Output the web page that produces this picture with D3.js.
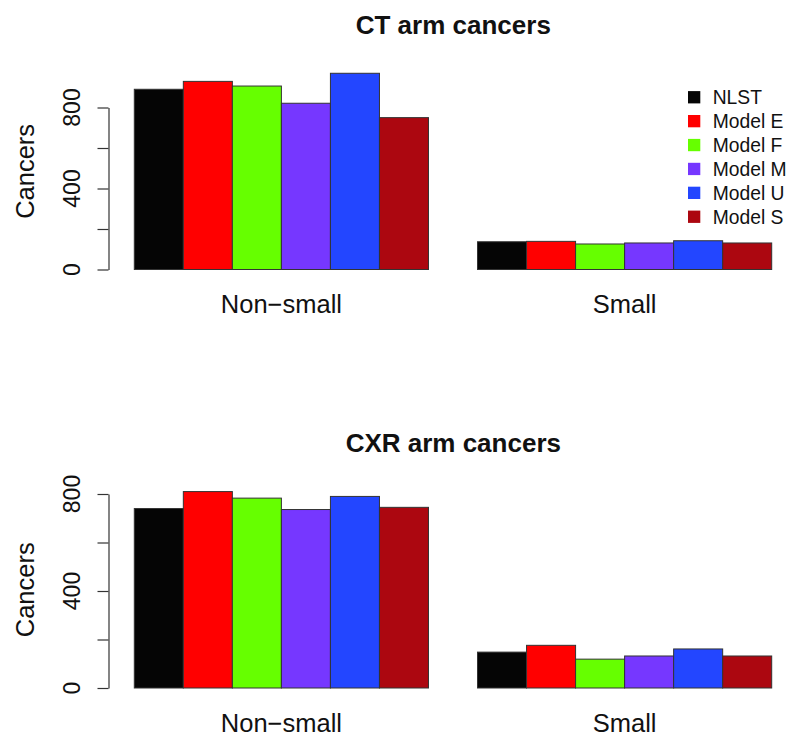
<!DOCTYPE html>
<html>
<head>
<meta charset="utf-8">
<script src="https://cdn.jsdelivr.net/npm/d3@7"></script>
<style>
  html, body { margin: 0; padding: 0; background: #fff; }
  svg { display: block; font-family: "Liberation Sans", Arial, Helvetica, sans-serif; }
</style>
</head>
<body>
<svg id="chart" width="800" height="748"></svg>
<script>
// ---- data ----
const categories = ["Non\u2212small", "Small"];
const seriesNames = ["NLST", "Model E", "Model F", "Model M", "Model U", "Model S"];
const seriesColors = ["#050505", "#FF0000", "#66FF00", "#7637FF", "#2346FF", "#AC0710"];
const ctNonSmall  = [890, 929, 906, 821, 969, 750];
const ctSmall     = [137, 139, 126, 131, 142, 131];
const cxrNonSmall = [740, 810, 783, 736, 790, 745];
const cxrSmall    = [148, 176, 119, 132, 161, 132];
const yTickValues = [0, 200, 400, 600, 800];
const yTickLabels = ["0", "", "400", "", "800"];
const panelTitles = ["CT arm cancers", "CXR arm cancers"];
const yAxisTitle = "Cancers";

const panels = [
  { title: panelTitles[0], groups: [ctNonSmall, ctSmall], offset: 0, legend: true },
  { title: panelTitles[1], groups: [cxrNonSmall, cxrSmall], offset: 418.3, legend: false }
];

const svg = d3.select("#chart");

// R barplot-like positions: group g, series i occupy [1 + 7g + i, 2 + 7g + i]
const x = d3.scaleLinear().domain([1, 14]).range([134.3, 771.7]);
const pxPerUnitTop = (269.5 - 107.5) / 800;

panels.forEach((p, pi) => {
  const g = svg.append("g").attr("transform", `translate(0,${p.offset})`);
  const base = pi === 0 ? 269.5 : 688 - p.offset;
  const top800 = pi === 0 ? 107.5 : 494 - p.offset;
  const y = d3.scaleLinear().domain([0, 800]).range([base, top800]);

  // bars
  p.groups.forEach((vals, gi) => {
    g.selectAll(null)
      .data(vals)
      .enter()
      .append("rect")
      .attr("x", (d, i) => x(1 + 7 * gi + i))
      .attr("width", x(2) - x(1))
      .attr("y", d => y(d))
      .attr("height", d => y(0) - y(d))
      .attr("fill", (d, i) => seriesColors[i])
      .attr("stroke", "#333")
      .attr("stroke-width", 1);
  });

  // y axis
  const axis = d3.axisLeft(y).tickValues(yTickValues).tickSize(11).tickSizeOuter(0).tickFormat("");
  const ag = g.append("g").attr("transform", "translate(108.5,0)").call(axis);
  ag.select(".domain").attr("stroke", "#333").attr("stroke-width", 1.2);
  ag.selectAll(".tick line").attr("stroke", "#333").attr("stroke-width", 1.2);

  // tick labels, rotated like R's default las=0
  g.selectAll(null)
    .data(yTickValues)
    .enter()
    .append("text")
    .attr("transform", d => `translate(80,${y(d)}) rotate(-90)`)
    .attr("text-anchor", "middle")
    .attr("font-size", 23)
    .attr("fill", "#111")
    .text((d, i) => yTickLabels[i]);

  // y axis title
  const midY = (y(0) + y(0) - (y(0) - y(800)) * (pi === 0 ? 969 : 810) / 800) / 2;
  g.append("text")
    .attr("transform", `translate(33.5,${midY}) rotate(-90)`)
    .attr("text-anchor", "middle")
    .attr("font-size", 25.5)
    .attr("fill", "#111")
    .text(yAxisTitle);

  // category labels
  g.selectAll(null)
    .data(categories)
    .enter()
    .append("text")
    .attr("x", (d, gi) => x(4 + 7 * gi))
    .attr("y", 313.3)
    .attr("text-anchor", "middle")
    .attr("font-size", 25.5)
    .attr("fill", "#111")
    .text(d => d);

  // title
  g.append("text")
    .attr("x", 453.3)
    .attr("y", 33.5)
    .attr("text-anchor", "middle")
    .attr("font-size", 26)
    .attr("font-weight", "bold")
    .attr("fill", "#111")
    .text(p.title);

  // legend
  if (p.legend) {
    const lg = g.append("g");
    const rowY = d3.scaleLinear().domain([0, 5]).range([97.3, 216.8]);
    seriesNames.forEach((name, i) => {
      lg.append("rect")
        .attr("x", 688)
        .attr("y", rowY(i) - 6.2)
        .attr("width", 12.3)
        .attr("height", 12.3)
        .attr("fill", seriesColors[i]);
      lg.append("text")
        .attr("x", 712.7)
        .attr("y", rowY(i))
        .attr("dy", "0.35em")
        .attr("font-size", 19.3)
        .attr("fill", "#111")
        .text(name);
    });
  }
});
</script>
</body>
</html>
